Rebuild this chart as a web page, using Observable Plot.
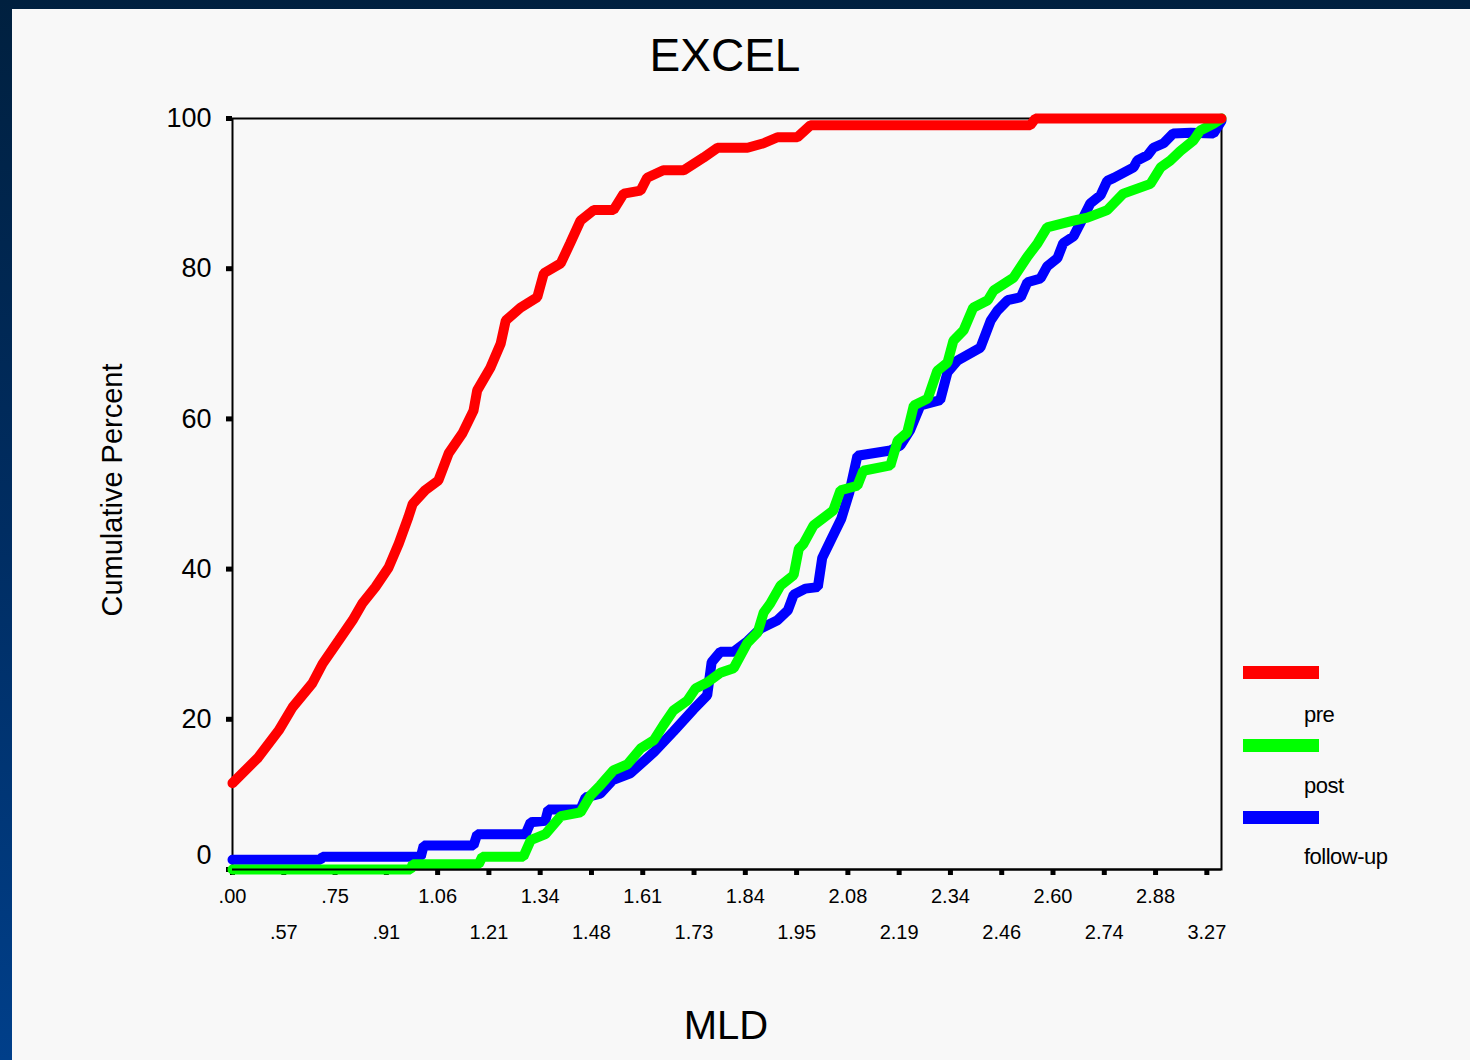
<!DOCTYPE html>
<html><head><meta charset="utf-8">
<script src="https://cdn.jsdelivr.net/npm/d3@7"></script>
<script src="https://cdn.jsdelivr.net/npm/@observablehq/plot@0.6"></script>
<style>
html,body{margin:0;padding:0;}
body{position:relative;width:1470px;height:1060px;overflow:hidden;background:linear-gradient(to bottom,#00203f 0%,#002d62 50%,#003f8a 100%);font-family:"Liberation Sans",Arial,sans-serif;color:#000;}
#panel{position:absolute;left:12px;top:9px;width:1458px;height:1051px;background:#f8f8f8;}
#chart{position:absolute;left:0;top:0;}
.t{position:absolute;white-space:nowrap;line-height:1;}
#title{left:0;width:1450px;text-align:center;top:32px;font-size:46px;}
#xlab{left:0;width:1452px;text-align:center;top:1005px;font-size:40px;}
#ylab{left:112px;top:490px;font-size:29px;transform:translate(-50%,-50%) rotate(-90deg);}
.sw{position:absolute;left:1243px;width:76px;height:13px;}
.lt{position:absolute;left:1304px;font-size:22px;line-height:1;letter-spacing:-0.5px;}
</style>
</head><body>
<div id="panel"></div>
<div id="chart"></div>
<div class="t" id="title">EXCEL</div>
<div class="t" id="ylab">Cumulative Percent</div>
<div class="t" id="xlab">MLD</div>
<div id="legend"></div>
<script>
// ---- data (x = category position along the ordinal MLD axis, y = cumulative percent) ----
const seriesNames = ["pre", "post", "follow-up"];
const seriesColors = ["#ff0000", "#00ff00", "#0000ff"];

const xTickLabels = [".00", ".57", ".75", ".91", "1.06", "1.21", "1.34", "1.48", "1.61", "1.73",
                     "1.84", "1.95", "2.08", "2.19", "2.34", "2.46", "2.60", "2.74", "2.88", "3.27"];
const categoriesPerTick = 7;
const nCategories = 136;
const yTicks = [0, 20, 40, 60, 80, 100];

const pre = [[0,11.5],[3.5,14.9],[6.3,18.5],[8.2,21.6],[10.9,24.8],[12.3,27.4],[14.5,30.5],[16.4,33.2],
  [17.7,35.4],[19.5,37.6],[21.3,40.2],[22.7,43.4],[24.0,46.9],[24.6,48.7],[26.3,50.5],[28.1,51.8],
  [29.5,55.4],[31.4,58.1],[32.9,61.1],[33.4,63.8],[35.2,66.8],[36.6,70.0],[37.3,73.1],[39.3,74.8],
  [41.6,76.2],[42.5,79.4],[44.8,80.7],[46.1,83.4],[47.5,86.4],[49.3,87.8],[52.0,87.8],[53.4,90.0],
  [55.7,90.4],[56.6,92.1],[58.8,93.1],[61.6,93.1],[64.3,94.8],[66.2,96.1],[70.3,96.1],[72.5,96.7],
  [74.4,97.5],[77.1,97.5],[78.9,99.1],[108.9,99.1],[109.6,100],[135,100]];

const post = [[0,0],[24.3,0],[24.6,0.7],[33.6,0.7],[34.1,1.7],[39.7,1.7],[40.7,3.9],[42.7,4.7],
  [44.8,7.1],[47.5,7.6],[48.9,9.9],[50.2,11.2],[52.0,13.2],[53.9,14.0],[55.7,16.1],[57.5,17.2],
  [58.8,19.2],[60.2,21.2],[62.1,22.5],[63.2,24.1],[64.8,24.9],[66.6,26.2],[68.4,26.8],[70.3,30.2],
  [71.7,31.6],[72.5,34.2],[73.4,35.4],[74.8,37.8],[76.6,39.2],[77.3,42.7],[77.9,43.3],[79.3,45.8],
  [82.0,47.8],[83.0,50.5],[85.3,51.1],[86.1,53.1],[89.8,53.8],[90.8,57.1],[92.1,58.2],[93.0,61.8],
  [94.9,62.7],[96.2,66.4],[97.6,67.5],[98.4,70.4],[99.8,71.8],[101.1,74.8],[103.1,75.8],[103.9,77.1],
  [106.6,78.8],[108.5,81.6],[109.9,83.4],[111.2,85.5],[114.8,86.4],[116.7,86.8],[119.4,87.8],
  [121.6,90.0],[125.3,91.3],[126.7,93.5],[128.0,94.4],[129.4,95.7],[131.2,97.1],[132.1,98.4],
  [133.9,99.3],[135,100]];

const followUp = [[0,1.3],[12.0,1.3],[12.3,1.7],[25.7,1.7],[26.1,3.2],[32.9,3.2],[33.4,4.7],[40.0,4.7],
  [40.7,6.3],[42.7,6.5],[43.1,8.0],[47.5,8.0],[48.2,9.6],[50.2,10.1],[51.9,11.9],[54.3,12.8],
  [57.5,15.6],[60.2,18.4],[62.9,21.3],[64.8,23.2],[65.4,27.6],[66.6,29.0],[68.4,29.0],[70.3,30.4],
  [72.1,32.1],[74.4,33.2],[75.8,34.5],[76.6,36.6],[78.2,37.4],[79.9,37.6],[80.5,41.5],[81.6,43.7],
  [83.1,46.7],[84.2,50.2],[85.3,55.1],[89.8,55.8],[91.2,56.5],[92.5,58.5],[93.9,61.8],[96.6,62.5],
  [97.6,66.2],[99.0,67.8],[102.1,69.5],[103.5,73.1],[104.4,74.4],[105.8,75.8],[107.6,76.2],
  [108.5,78.2],[110.3,78.7],[111.2,80.3],[112.6,81.4],[113.4,83.4],[114.8,84.3],[115.8,86.2],
  [117.1,88.7],[118.5,89.8],[119.4,91.7],[120.3,92.1],[123.0,93.5],[123.5,94.4],[124.9,95.1],
  [125.7,96.1],[127.1,96.7],[128.4,98.0],[130.8,98.1],[133.9,98.0],[135,99.7]];

// ---- build tables ----
const rows = [
  ...followUp.map(([i, p]) => ({series: "follow-up", i, p})),
  ...post.map(([i, p]) => ({series: "post", i, p})),
  ...pre.map(([i, p]) => ({series: "pre", i, p}))
];
const xTicks = xTickLabels.map((label, k) => ({i: k * categoriesPerTick, label, row: k % 2}));
const font = "Liberation Sans, Arial, sans-serif";

const chart = Plot.plot({
  width: 1470,
  height: 960,
  marginLeft: 232,
  marginRight: 249,
  marginTop: 118,
  marginBottom: 91,
  style: {background: "transparent", fontFamily: font, color: "#000", overflow: "visible"},
  x: {domain: [0, nCategories - 1]},
  y: {domain: [0, 100]},
  color: {domain: seriesNames, range: seriesColors},
  marks: [
    Plot.frame({stroke: "#000", strokeWidth: 2}),
    Plot.axisY(yTicks, {tickSize: 6, strokeWidth: 5, tickFormat: () => "", label: null}),
    Plot.axisX(xTicks.map(d => d.i), {tickSize: 6, strokeWidth: 5, tickFormat: () => "", label: null}),
    Plot.line(rows, {x: "i", y: "p", z: "series", stroke: "series", strokeWidth: 10, strokeLinejoin: "miter"}),
    Plot.ruleY([0], {stroke: "#000", strokeWidth: 2}),
    Plot.text(yTicks.filter(d => d > 0), {y: d => d, frameAnchor: "left", dx: -21, textAnchor: "end",
      text: d => String(d), fontSize: 27, fill: "#000"}),
    Plot.text([0], {y: d => d, frameAnchor: "left", dx: -21, dy: -14, textAnchor: "end",
      text: d => String(d), fontSize: 27, fill: "#000"}),
    Plot.text(xTicks.filter(d => d.row === 0), {x: "i", frameAnchor: "bottom", dy: 33, text: "label",
      fontSize: 20, fill: "#000", letterSpacing: "-0.5px"}),
    Plot.text(xTicks.filter(d => d.row === 1), {x: "i", frameAnchor: "bottom", dy: 69, text: "label",
      fontSize: 20, fill: "#000", letterSpacing: "-0.5px"})
  ]
});
document.getElementById("chart").appendChild(chart);

// ---- legend ----
const legend = document.getElementById("legend");
const swatchTops = [666, 739, 811];
const labelTops = [704, 775, 846];
seriesNames.forEach((name, k) => {
  const sw = document.createElement("div");
  sw.className = "sw";
  sw.style.top = swatchTops[k] + "px";
  sw.style.background = seriesColors[k];
  legend.appendChild(sw);
  const lt = document.createElement("div");
  lt.className = "lt";
  lt.style.top = labelTops[k] + "px";
  lt.textContent = name;
  legend.appendChild(lt);
});
</script>
</body></html>
